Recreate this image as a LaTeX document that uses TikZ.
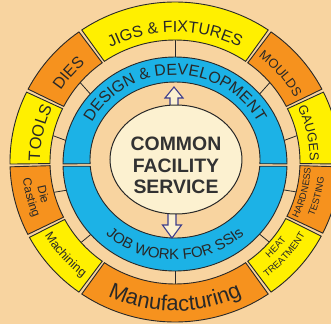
\documentclass[tikz,border=0pt]{standalone}
\usepackage{fontspec}
\setmainfont{Liberation Sans}
\newfontfamily\lsans{Liberation Sans}
\usetikzlibrary{decorations.text}
\definecolor{bgc}{RGB}{248,212,160}
\definecolor{ylw}{RGB}{255,240,0}
\definecolor{org}{RGB}{246,146,30}
\definecolor{blu}{RGB}{28,178,230}
\definecolor{crm}{RGB}{252,241,208}
\definecolor{ink}{RGB}{40,40,40}
\definecolor{arrc}{RGB}{62,62,140}
\definecolor{ctr}{RGB}{50,50,50}
\newcommand{\arcfont}[1]{\lsans\fontsize{#1}{#1}\selectfont\color{ink}}
\tikzset{
  seg/.style={draw=ink, line width=0.9bp},
  spoke/.style={draw=ink, line width=0.8bp},
  bluehalf/.style={fill=blu, draw=ink, line width=0.9bp},
  hollowarrow/.style={fill=crm, draw=arrc, line width=1.1bp, line join=miter},
  ctrtext/.style={font=\lsans\bfseries\fontsize{19.5}{19.5}\selectfont, text=ctr, inner sep=0pt, anchor=base},
  arctext/.style={decorate, decoration={text along path, text align=center, text={#1}}}
}
\begin{document}
\begin{tikzpicture}[x=1bp,y=1bp]
\useasboundingbox (-175,-162) rectangle (156,162);
\clip (-175,-162) rectangle (156,162);
\fill[bgc] (-175,-162) rectangle (156,162);
% spokes
\foreach \a in {90,167.4,139.25,40.75,12.6,-14.1,-41,-90,-138.75,-165.7}
  \draw[spoke] ([shift={(0,-2)}]\a:110bp and 105bp) -- (\a:127bp and 124bp);
% outer segments
\foreach \s/\e/\c in {154.1/180.73/ylw, 125.6/152.9/org, 55.6/124.4/ylw, 27.1/54.4/org, -0.73/25.9/ylw, -26.4/-1.73/org, -54.4/-27.6/ylw, -124.4/-55.6/org, -151.9/-125.6/ylw, -178.27/-153.1/org}
  \filldraw[seg, fill=\c] (\s:165bp and 160bp) arc[start angle=\s, end angle=\e, x radius=165bp, y radius=160bp] -- (\e:125bp and 122bp) arc[start angle=\e, end angle=\s, x radius=125bp, y radius=122bp] -- cycle;
% blue halves
\filldraw[bluehalf] ([shift={(0,-2)}]0.107:112bp and 107bp) arc[start angle=0.107, end angle=179.893, x radius=112bp, y radius=107bp] -- ([shift={(0,2)}]182.79:85bp and 78bp) arc[start angle=182.79, end angle=-2.79, x radius=85bp, y radius=78bp] -- cycle;
\filldraw[bluehalf] ([shift={(0,-2)}]181.178:112bp and 107bp) arc[start angle=181.178, end angle=358.822, x radius=112bp, y radius=107bp] -- ([shift={(0,2)}]355.44:85bp and 78bp) arc[start angle=355.44, end angle=184.56, x radius=85bp, y radius=78bp] -- cycle;
% arrows
\filldraw[hollowarrow] (-5,50) -- (-5,64) -- (-10,64) -- (-1,75) -- (8,64) -- (3,64) -- (3,50) -- cycle;
\filldraw[hollowarrow] (-7,-45) -- (-7,-63) -- (-12.5,-63) -- (-3,-76) -- (6.5,-63) -- (1,-63) -- (1,-45) -- cycle;
% centre ellipse
\filldraw[fill=crm, draw=ink, line width=1bp] (1,2.5) ellipse [x radius=66bp, y radius=54.5bp];
\node[ctrtext] (c1) at (1,12) {COMMON};
\node[ctrtext] (c2) at (1,-10.7) {FACILITY};
\node[ctrtext] (c3) at (1,-31) {SERVICE};
% outer texts
\path[arctext={|\arcfont{16.5}|TOOLS}] (180.73:135bp and 131bp) arc[start angle=180.73, end angle=154.1, x radius=135bp, y radius=131bp];
\path[arctext={|\arcfont{16}|DIES}] (152.9:136bp and 131bp) arc[start angle=152.9, end angle=125.6, x radius=136bp, y radius=131bp];
\path[arctext={|\arcfont{16}|JIGS {\&} FIXTURES}] (124.4:136bp and 130bp) arc[start angle=124.4, end angle=55.6, x radius=136bp, y radius=130bp];
\path[arctext={|\arcfont{13}|MOULDS}] (54.4:137bp and 133bp) arc[start angle=54.4, end angle=27.1, x radius=137bp, y radius=133bp];
\path[arctext={|\arcfont{13}|GAUGES}] (25.9:135bp and 131bp) arc[start angle=25.9, end angle=-0.73, x radius=135bp, y radius=131bp];
\path[arctext={|\arcfont{9.5}|HARDNESS}] (-26.4:136bp and 132bp) arc[start angle=-26.4, end angle=-1.73, x radius=136bp, y radius=132bp];
\path[arctext={|\arcfont{9.5}|TESTING}] (-26.4:150bp and 146bp) arc[start angle=-26.4, end angle=-1.73, x radius=150bp, y radius=146bp];
\path[arctext={|\arcfont{9.5}|HEAT}] (-54.4:137bp and 133bp) arc[start angle=-54.4, end angle=-27.6, x radius=137bp, y radius=133bp];
\path[arctext={|\arcfont{9.5}|TREATMENT}] (-54.4:150bp and 146bp) arc[start angle=-54.4, end angle=-27.6, x radius=150bp, y radius=146bp];
\path[arctext={|\arcfont{22}|Manufacturing}] (-124.4:154bp and 149bp) arc[start angle=-124.4, end angle=-55.6, x radius=154bp, y radius=149bp];
\path[arctext={|\arcfont{12.5}|Machining}] (-151.9:151bp and 146bp) arc[start angle=-151.9, end angle=-125.6, x radius=151bp, y radius=146bp];
\path[arctext={|\arcfont{12}|Die}] (181.73:140bp and 136bp) arc[start angle=181.73, end angle=206.9, x radius=140bp, y radius=136bp];
\path[arctext={|\arcfont{12}|Casting}] (181.73:153bp and 149bp) arc[start angle=181.73, end angle=206.9, x radius=153bp, y radius=149bp];
% blue texts
\path[arctext={|\arcfont{16}|DESIGN {\&} DEVELOPMENT}] (178:93bp and 87bp) arc[start angle=178, end angle=2, x radius=93bp, y radius=87bp];
\path[arctext={|\arcfont{15}|JOB WORK FOR SSIs}] (185:103bp and 98bp) arc[start angle=185, end angle=355, x radius=103bp, y radius=98bp];
\end{tikzpicture}
\end{document}
